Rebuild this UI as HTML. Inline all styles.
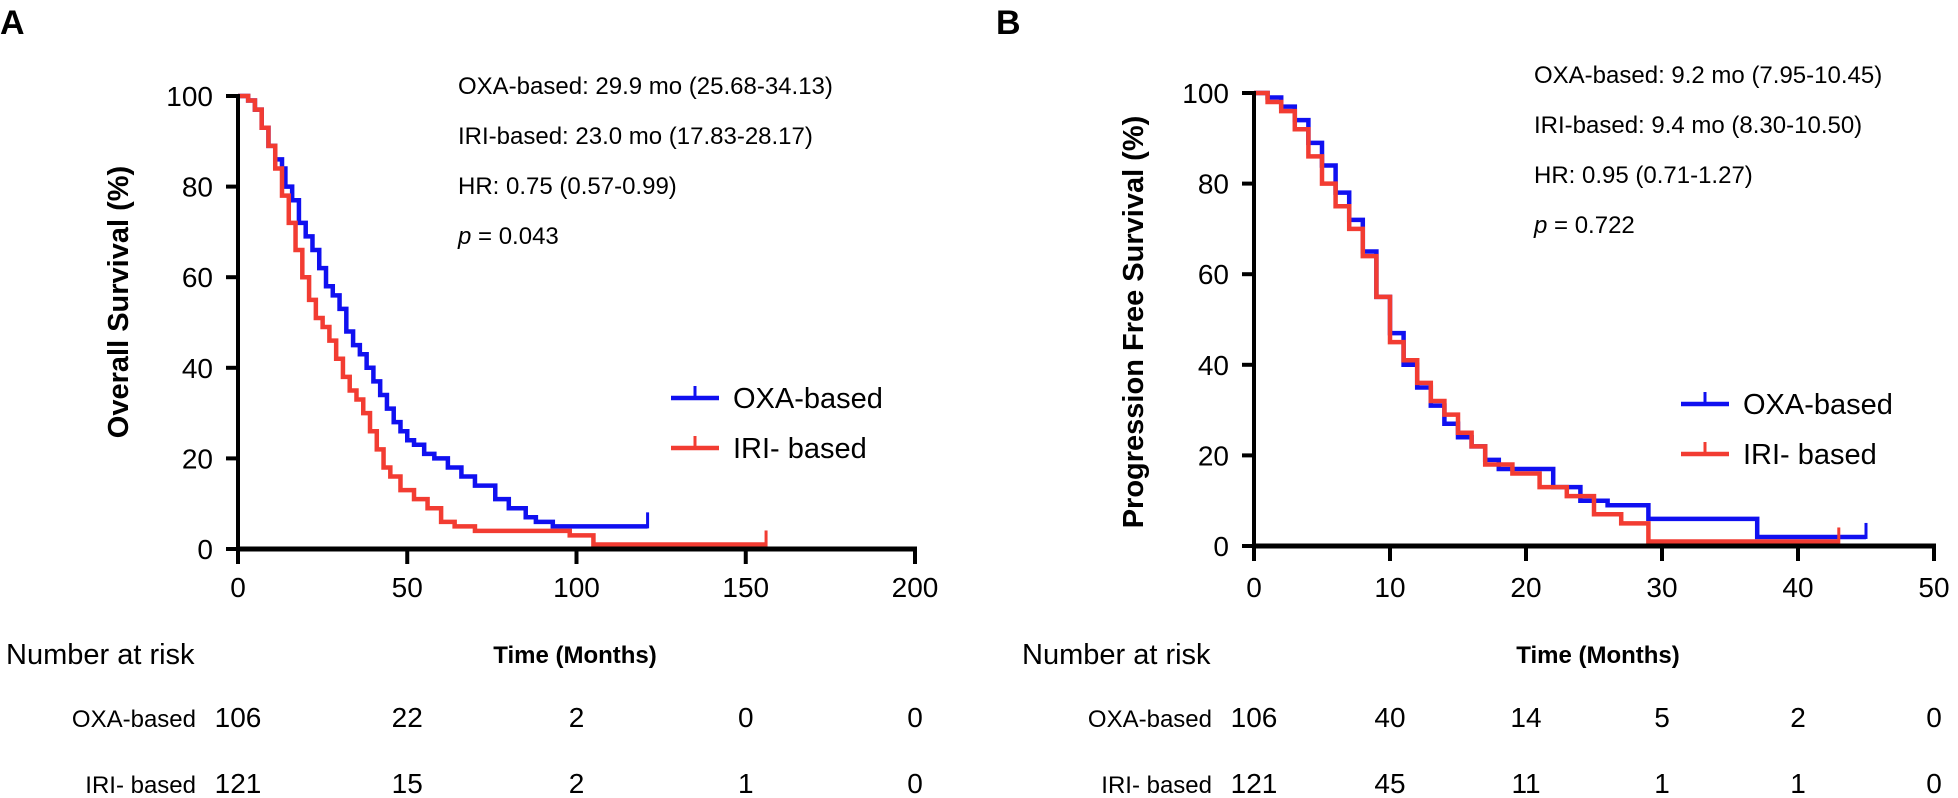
<!DOCTYPE html>
<html><head><meta charset="utf-8"><style>
html,body{margin:0;padding:0;background:#fff;}
svg{display:block;font-family:"Liberation Sans",Arial,sans-serif;}
</style></head><body>
<svg id="fig" width="1958" height="798" viewBox="0 0 1958 798"></svg>
<script>
// ---- Data ----
const aYTicks=[0,20,40,60,80,100];
const aXTicks=[0,50,100,150,200];
const bXTicks=[0,10,20,30,40,50];
const aOxaT=[0,3,5,7,9,11,13,14,16,18,20,22,24,26,28,30,32,34,36,38,40,42,44,46,48,50,52,55,58,62,66,70,76,80,85,88,93,121];
const aOxaS=[100,99,97,93,89,86,84,80,77,72,69,66,62,58,56,53,48,45,43,40,37,34,31,28,26,24,23,21,20,18,16,14,11,9,7,6,5,5];
const aIriT=[0,3,5,7,9,11,13,15,17,19,21,23,25,27,29,31,33,35,37,39,41,43,45,48,52,56,60,64,70,98,105,156];
const aIriS=[100,99,97,93,89,84,78,72,66,60,55,51,49,46,42,38,35,33,30,26,22,18,16,13,11,9,6,5,4,3,1,1];
const bOxaT=[0,1,2,3,4,5,6,7,8,9,10,11,12,13,14,15,16,17,18,20,22,24,26,29,34,37,45];
const bOxaS=[100,99,97,94,89,84,78,72,65,55,47,40,35,31,27,24,22,19,17,17,13,10,9,6,6,2,2];
const bIriT=[0,1,2,3,4,5,6,7,8,9,10,11,12,13,14,15,16,17,19,21,23,25,27,29,43];
const bIriS=[100,98,96,92,86,80,75,70,64,55,45,41,36,32,29,25,22,18,16,13,11,7,5,1,1];
const aOxaRisk=[106,22,2,0,0];
const aIriRisk=[121,15,2,1,0];
const bOxaRisk=[106,40,14,5,2,0];
const bIriRisk=[121,45,11,1,1,0];

const NS="http://www.w3.org/2000/svg";
const svg=document.getElementById('fig');
function mk(tag,attrs,parent,text){const e=document.createElementNS(NS,tag);for(const k in attrs)e.setAttribute(k,attrs[k]);if(text!==undefined)e.textContent=text;(parent||svg).appendChild(e);return e;}

function panel(p){
  const g=mk('g',{});
  
  
  const xs=v=>p.x0+(v/p.xmax)*(p.x1-p.x0);
  const ys=v=>p.y0-(v/100)*(p.y0-p.y1);
  const lbl=mk('text',{x:p.lx,y:34,'font-size':34,'font-weight':'bold'},g,p.letter);
  
  
  function curve(T,S,color,name){
    let d='M'+xs(T[0])+','+ys(S[0]);
    for(let i=1;i<T.length;i++){d+=' H'+xs(T[i])+' V'+ys(S[i]);}
    const pa=mk('path',{d:d,fill:'none',stroke:color,'stroke-width':4.5},g);
    
    
    const last=T.length-1;
    const c=mk('line',{x1:xs(T[last]),x2:xs(T[last]),y1:ys(S[last])+2,y2:ys(S[last])-14,stroke:color,'stroke-width':3},g);
    
    
  }
  curve(p.oT,p.oS,'#1010f0',p.id+'-oxa-curve');
  curve(p.iT,p.iS,'#f23c32',p.id+'-iri-curve');
  const ya=mk('line',{x1:p.x0,x2:p.x0,y1:p.y1-2,y2:p.y0+2,stroke:'#000','stroke-width':4},g);
  
  
  const xa=mk('line',{x1:p.x0-2,x2:p.x1+2,y1:p.y0,y2:p.y0,stroke:'#000','stroke-width':5},g);
  
  
  aYTicks.forEach(v=>{
    mk('line',{x1:p.x0-12,x2:p.x0,y1:ys(v),y2:ys(v),stroke:'#000','stroke-width':4},g);
    const t=mk('text',{x:p.x0-25,y:ys(v)+10,'font-size':28,'text-anchor':'end'},g,v);
    
    
  });
  p.xt.forEach(v=>{
    mk('line',{x1:xs(v),x2:xs(v),y1:p.y0,y2:p.y0+15,stroke:'#000','stroke-width':4},g);
    const t=mk('text',{x:xs(v),y:597,'font-size':28,'text-anchor':'middle'},g,v);
    
    
  });
  const yt=mk('text',{x:0,y:0,'font-size':29,'font-weight':'bold','text-anchor':'middle',transform:`translate(${p.ytx},${p.yty}) rotate(-90)`},g,p.ytitle);
  
  
  const xt=mk('text',{x:p.xtitle,y:663,'font-size':24,'font-weight':'bold','text-anchor':'middle'},g,'Time (Months)');
  
  
  const nr=mk('text',{x:p.nrx,y:664,'font-size':29},g,'Number at risk');
  
  
  p.stats.forEach((s,i)=>{
    const t=mk('text',{x:p.sx,y:p.sy+i*50,'font-size':24},g);
    if(s.startsWith('p')){mk('tspan',{'font-style':'italic'},t,'p');mk('tspan',{},t,s.slice(1));}
    else t.textContent=s;
    
    
  });
  [['OXA-based','#1010f0',p.ly],['IRI- based','#f23c32',p.ly+50]].forEach(([n,c,y])=>{
    const lg=mk('g',{},g);
    
    
    mk('line',{x1:p.lgx,x2:p.lgx+48,y1:y,y2:y,stroke:c,'stroke-width':4.5},lg);
    mk('line',{x1:p.lgx+24,x2:p.lgx+24,y1:y,y2:y-12,stroke:c,'stroke-width':3},lg);
    mk('text',{x:p.lgx+62,y:y+10,'font-size':29},lg,n);
  });
  [['OXA-based',p.or,727],['IRI- based',p.ir,793]].forEach(([n,arr,y])=>{
    const t=mk('text',{x:p.rlx,y:y,'font-size':24,'text-anchor':'end'},g,n);
    
    
    arr.forEach((v,i)=>{
      const c=mk('text',{x:xs(p.xt[i]),y:y,'font-size':28,'text-anchor':'middle'},g,v);
      
      
    });
  });
}
panel({id:'a',letter:'A',lx:0,x0:238,x1:915,xmax:200,y0:549,y1:96,xt:aXTicks,oT:aOxaT,oS:aOxaS,iT:aIriT,iS:aIriS,
  ytitle:'Overall Survival (%)',ytx:128,yty:302,xtitle:575,nrx:6,
  stats:['OXA-based: 29.9 mo (25.68-34.13)','IRI-based: 23.0 mo (17.83-28.17)','HR: 0.75 (0.57-0.99)','p = 0.043'],sx:458,sy:94,
  lgx:671,ly:398,or:aOxaRisk,ir:aIriRisk,rlx:196});
panel({id:'b',letter:'B',lx:996,x0:1254,x1:1934,xmax:50,y0:546,y1:93,xt:bXTicks,oT:bOxaT,oS:bOxaS,iT:bIriT,iS:bIriS,
  ytitle:'Progression Free Survival (%)',ytx:1143,yty:322,xtitle:1598,nrx:1022,
  stats:['OXA-based: 9.2 mo (7.95-10.45)','IRI-based: 9.4 mo (8.30-10.50)','HR: 0.95 (0.71-1.27)','p = 0.722'],sx:1534,sy:83,
  lgx:1681,ly:404,or:bOxaRisk,ir:bIriRisk,rlx:1212});
</script>
</body></html>
